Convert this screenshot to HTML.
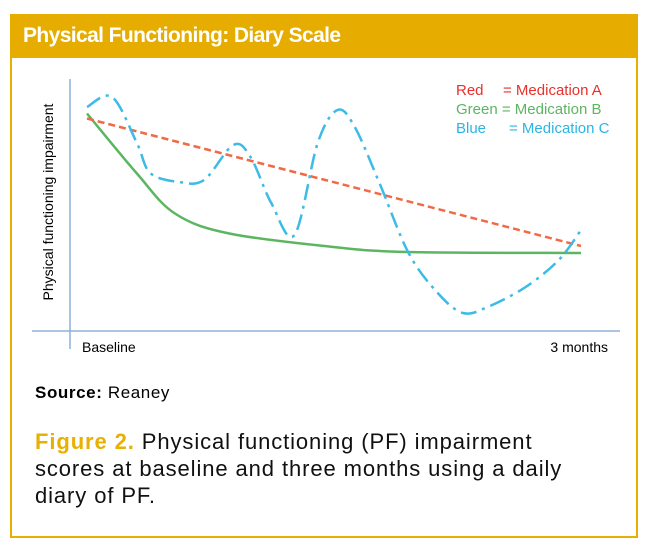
<!DOCTYPE html>
<html><head><meta charset="utf-8"><style>
body{margin:0;background:#fff;width:647px;height:550px;position:relative;overflow:hidden;font-family:"Liberation Sans",sans-serif}
#frame{position:absolute;left:10px;top:14px;width:624px;height:520px;border:2px solid #e8b000;box-sizing:content-box}
#hdr{position:absolute;left:10px;top:14px;width:628px;height:44px;background:#e6ad00;color:#fff;font-weight:bold;font-size:21px;line-height:44px;padding-left:13px;box-sizing:border-box;letter-spacing:-0.6px;font-family:"Liberation Sans Narrow","Liberation Sans",sans-serif}
svg{position:absolute;left:0;top:0}
.src{position:absolute;left:35px;top:383px;font-size:17px;letter-spacing:0.6px}
.cap{position:absolute;left:35px;top:428px;font-size:22px;line-height:27px;width:610px;color:#111;letter-spacing:0.9px}
.cap b{color:#e8b000}
</style></head><body>
<div id="frame"></div>
<div id="hdr">Physical Functioning: Diary Scale</div>
<svg id="chart" width="647" height="550">
<line x1="70" y1="79" x2="70" y2="349" stroke="#8fb0d8" stroke-width="1.5"/>
<line x1="32" y1="331" x2="620" y2="331" stroke="#8fb0d8" stroke-width="1.5"/>
<text x="53" y="202" font-size="14" text-anchor="middle" transform="rotate(-90 53 202)">Physical functioning impairment</text>
<text x="82" y="352" font-size="14">Baseline</text>
<text x="608" y="352" font-size="14" text-anchor="end">3 months</text>
<text x="456" y="95" font-size="15" fill="#e8302c">Red <tspan x="503">= Medication A</tspan></text>
<text x="456" y="114" font-size="15" fill="#5cb560">Green = Medication B</text>
<text x="456" y="133" font-size="15" fill="#2bb5e3">Blue <tspan x="509">= Medication C</tspan></text>
<g id="marks"></g>
</svg>
<div class="src"><b>Source:</b> Reaney</div>
<div class="cap"><b>Figure 2.</b> Physical functioning (PF) impairment<br>scores at baseline and three months using a daily<br>diary of PF.</div>
<script>
// x: fraction of time from baseline (0) to 3 months (1); y: impairment 0-100
const redX=[0,1];
const redY=[85,34];
const greenX=[0,0.101,0.178,0.288,0.499,0.651,1];
const greenY=[87,63,47,39,33.6,31.6,31.2];
const blueX=[0,0.051,0.101,0.128,0.187,0.237,0.296,0.331,0.373,0.420,0.467,0.507,0.542,0.592,0.651,0.710,0.761,0.811,0.888,0.955,1];
const blueY=[89.6,93.6,75.2,63.2,59.6,60.4,74.4,69.6,51.2,38.4,75.2,88.4,81.6,59.2,31.2,15.2,7.2,9.6,17.6,28.4,40.4];
const X=v=>87+v*(581-87), Y=v=>331-v*2.5;
function path(xs,ys){
  const p=xs.map((x,i)=>[X(x),Y(ys[i])]);
  if(p.length<3)return 'M'+p.map(q=>q.join(',')).join(' L');
  let d='M'+p[0];
  for(let i=0;i<p.length-1;i++){
    const p0=p[i-1]||p[i],p1=p[i],p2=p[i+1],p3=p[i+2]||p2;
    const c1=[p1[0]+(p2[0]-p0[0])/6,p1[1]+(p2[1]-p0[1])/6],c2=[p2[0]-(p3[0]-p1[0])/6,p2[1]-(p3[1]-p1[1])/6];
    d+=' C'+c1+' '+c2+' '+p2;
  }
  return d;
}
const g=document.getElementById('marks');
function add(xs,ys,color,dash,name){
  const e=document.createElementNS('http://www.w3.org/2000/svg','path');
  e.setAttribute('d',path(xs,ys));e.setAttribute('fill','none');e.setAttribute('stroke',color);
  e.setAttribute('stroke-width','2.5');if(dash)e.setAttribute('stroke-dasharray',dash);
  
  
  g.appendChild(e);
}
add(greenX,greenY,'#5cb560',null,'series-medication-b');
add(redX,redY,'#f06a45','7,4','series-medication-a');
add(blueX,blueY,'#3bbbe6','16,6,3,6','series-medication-c');
</script>
</body></html>
